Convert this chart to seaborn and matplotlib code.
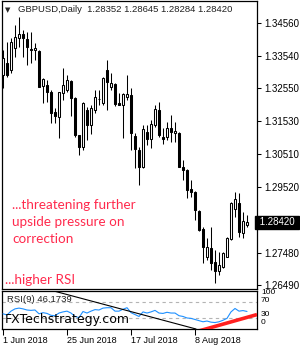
import numpy as np
import pandas as pd
import seaborn as sns
import matplotlib.pyplot as plt

sns.set_style('white')
plt.rcParams['font.family'] = ['Liberation Sans', 'DejaVu Sans']

# GBPUSD daily candles, 1 Jun 2018 onwards
opens = [1.32958, 1.33328, 1.33112, 1.33790, 1.34098, 1.34221, 1.34068, 1.33759, 1.33728, 1.33698,
         1.32620, 1.32650, 1.32435, 1.31819, 1.31665, 1.32404, 1.32496, 1.32774, 1.32250, 1.31110,
         1.30741, 1.31880, 1.31418, 1.31880, 1.32219, 1.32096, 1.33112, 1.32589, 1.32681, 1.32096,
         1.32034, 1.32281, 1.32342, 1.31080, 1.30648, 1.30125, 1.31203, 1.30987, 1.31418, 1.31880,
         1.31049, 1.31049, 1.31326, 1.31172, 1.31172, 1.30125, 1.30032, 1.29447, 1.29355, 1.28770,
         1.28215, 1.27353, 1.27630, 1.27199, 1.26922, 1.27045, 1.27353, 1.27907, 1.28831, 1.29016,
         1.28092, 1.28352]
highs = [1.33728, 1.33975, 1.34098, 1.34498, 1.34745, 1.34344, 1.34283, 1.34283, 1.33944, 1.33728,
         1.32866, 1.32804, 1.32496, 1.31942, 1.32435, 1.33174, 1.32958, 1.32804, 1.32281, 1.31110,
         1.32127, 1.31973, 1.32034, 1.32496, 1.32496, 1.32897, 1.33420, 1.33020, 1.32712, 1.32404,
         1.32404, 1.32958, 1.32558, 1.31172, 1.30741, 1.31418, 1.31418, 1.31572, 1.32034, 1.32127,
         1.31326, 1.31511, 1.31726, 1.31511, 1.31203, 1.30340, 1.30063, 1.29724, 1.29386, 1.28800,
         1.28277, 1.27938, 1.28277, 1.27568, 1.27507, 1.27507, 1.27969, 1.29047, 1.29355, 1.29324,
         1.28739, 1.28645]
lows = [1.32558, 1.32897, 1.33020, 1.33513, 1.33821, 1.33513, 1.33266, 1.33328, 1.33420, 1.32589,
        1.32096, 1.32127, 1.31480, 1.31480, 1.31018, 1.32188, 1.32435, 1.31696, 1.31049, 1.30494,
        1.30648, 1.30957, 1.31141, 1.31788, 1.32034, 1.32034, 1.31880, 1.32496, 1.32004, 1.32034,
        1.31018, 1.32188, 1.30648, 1.30094, 1.29570, 1.30094, 1.30802, 1.30710, 1.31357, 1.31049,
        1.30833, 1.30957, 1.30895, 1.30895, 1.30125, 1.29724, 1.29170, 1.29201, 1.28492, 1.28154,
        1.27168, 1.27260, 1.26952, 1.26552, 1.26798, 1.27014, 1.27353, 1.27876, 1.28585, 1.27969,
        1.27938, 1.28284]
closes = [1.33482, 1.32958, 1.33975, 1.34129, 1.34221, 1.34098, 1.33821, 1.33744, 1.33790, 1.32589,
          1.32835, 1.32435, 1.31788, 1.31696, 1.32435, 1.32650, 1.32804, 1.32250, 1.31110, 1.30741,
          1.32096, 1.31418, 1.31942, 1.32281, 1.32204, 1.32866, 1.32743, 1.32712, 1.32065, 1.32034,
          1.32373, 1.32373, 1.31172, 1.30679, 1.30125, 1.31295, 1.30987, 1.31449, 1.31911, 1.31110,
          1.30987, 1.31326, 1.31203, 1.31234, 1.30125, 1.30032, 1.29416, 1.29355, 1.28800, 1.28184,
          1.27661, 1.27661, 1.27168, 1.26922, 1.27106, 1.27476, 1.27938, 1.29016, 1.29139, 1.28123,
          1.28462, 1.28420]
rsi = [40, 37, 47, 53, 55, 53, 50, 49, 50, 40,
       43, 41, 36, 35, 42, 45, 47, 42, 33, 30,
       46, 42, 47, 51, 50, 55, 56, 56, 47, 47,
       52, 56, 43, 38, 33, 45, 42, 45, 49, 42,
       41, 44, 42, 42, 35, 33, 29, 28, 25, 22,
       19, 21, 18, 17, 19, 23, 28, 45, 54, 47,
       48.5, 46.1739]

price_ticks = [1.34560, 1.33540, 1.32550, 1.31530, 1.30510, 1.29520, 1.27480, 1.26490]
date_ticks = [0, 16, 32, 48]
date_labels = ['1 Jun 2018', '25 Jun 2018', '17 Jul 2018', '8 Aug 2018']
rsi_levels = [70, 30]

# hand drawn trend lines in the RSI window (bar index, RSI value)
black_line_x = [11.75, 48.25]
black_line_y = [102.7, 0.0]
red_line_x = [48.0, 63.5]
red_line_y = [-8.0, 38.0]

df = pd.DataFrame({'open': opens, 'high': highs, 'low': lows, 'close': closes, 'rsi': rsi})
df['idx'] = np.arange(len(df))
up = df['close'] >= df['open']

W, H = 300, 350
fig = plt.figure(figsize=(3, 3.5), dpi=100)
ax = fig.add_axes([2 / W, 61 / H, 255 / W, 288 / H])
ax2 = fig.add_axes([2 / W, 21 / H, 255 / W, 38 / H])

# Candles
ax.vlines(df['idx'], df['low'], df['high'], color='black', lw=0.75, zorder=2)
ax.bar(df['idx'][up], (df['close'] - df['open'])[up], bottom=df['open'][up], width=0.55,
       facecolor='white', edgecolor='black', lw=0.75, zorder=3)
ax.bar(df['idx'][~up], (df['open'] - df['close'])[~up], bottom=df['close'][~up], width=0.55,
       facecolor='black', edgecolor='black', lw=0.75, zorder=3)

ax.set_xlim(-0.25, 63.5)
ax.set_ylim(1.26367, 1.35238)
ax.set_xticks([])
ax.yaxis.tick_right()
ax.set_yticks(price_ticks, ['%.5f' % p for p in price_ticks])
ax.tick_params(axis='y', direction='out', length=3, width=0.75, pad=2, labelsize=7,
               colors='black')
for s in ax.spines.values():
    s.set_color('black')
    s.set_linewidth(0.9)

# current price box
ax.text(1.0, closes[-1], ' 1.28420 ', transform=ax.get_yaxis_transform(), ha='left', va='center',
        fontsize=7, color='white', clip_on=False,
        bbox=dict(facecolor='black', edgecolor='black', pad=1.2))

# RSI panel
for lv in rsi_levels:
    ax2.axhline(lv, color='#b4b4b4', lw=0.8, ls=(0, (3, 3)), zorder=1)
sns.lineplot(x='idx', y='rsi', data=df, ax=ax2, color='#1e90ff', lw=0.8, zorder=3)
ax2.plot(black_line_x, black_line_y, color='black', lw=0.8, zorder=4)
ax2.plot(red_line_x, red_line_y, color='#ff2020', lw=2.6, zorder=4, solid_capstyle='butt')
ax2.set_xlim(-0.25, 63.5)
ax2.set_ylim(0, 100)
ax2.set_yticks([])
ax2.set_xlabel('')
ax2.set_ylabel('')
ax2.set_xticks(date_ticks, date_labels, ha='left')
ax2.tick_params(axis='x', direction='out', length=4, width=0.75, pad=1, labelsize=6.5,
                colors='black', bottom=True)
for s in ax2.spines.values():
    s.set_color('black')
    s.set_linewidth(0.9)

# level labels, stacked tightly as in the terminal
for lab, yy in [('100', 293), ('70', 300.5), ('30', 314), ('0', 322)]:
    fig.text(261 / W, 1 - yy / H, lab, fontsize=6, ha='left', va='center', color='black')

# Header and annotations
fig.text(5 / W, 1 - 10 / H, '\u25bc', fontsize=5, ha='left', va='center', family='DejaVu Sans')
fig.text(18 / W, 1 - 10 / H, 'GBPUSD,Daily  1.28352 1.28645 1.28284 1.28420', fontsize=6.8,
         ha='left', va='center', color='#202020')
fig.text(7 / W, 1 - 300 / H, 'RSI(9) 46.1739', fontsize=6.8, ha='left', va='center', color='#202020')

red = '#ff2a4d'
for txt, yy in [('...threatening further', 205), ('upside pressure on', 222), ('correction', 239)]:
    fig.text(12 / W, 1 - yy / H, txt, fontsize=9.7, color=red, ha='left', va='center', family='Lato')
fig.text(5 / W, 1 - 280 / H, '...higher RSI', fontsize=9.7, color=red, ha='left', va='center',
         family='Lato')
fig.text(5 / W, 1 - 320 / H, 'FXTechstrategy.com', fontsize=9, color='black', ha='left',
         va='center', family='DejaVu Sans')

fig.savefig('out.png', dpi=100)
